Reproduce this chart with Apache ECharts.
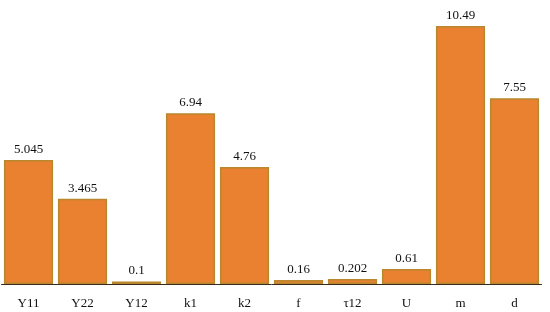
<!DOCTYPE html>
<html>
<head>
<meta charset="utf-8">
<script src="https://cdn.jsdelivr.net/npm/echarts@6/dist/echarts.min.js"></script>
<style>
  html, body { margin: 0; padding: 0; background: #fff; }
  #chart { width: 550px; height: 312px; }
</style>
</head>
<body>
<div id="chart"></div>
<script>
// parameter names and their values
const categories = ['Y11', 'Y22', 'Y12', 'k1', 'k2', 'f', 'τ12', 'U', 'm', 'd'];
const values = [5.045, 3.465, 0.1, 6.94, 4.76, 0.16, 0.202, 0.61, 10.49, 7.55];
const labelText = ['5.045', '3.465', '0.1', '6.94', '4.76', '0.16', '0.202', '0.61', '10.49', '7.55'];

const chart = echarts.init(document.getElementById('chart'));
chart.setOption({
  animation: false,
  grid: { left: 1.5, right: 8.5, top: 13.4, bottom: 28 },
  xAxis: {
    type: 'category',
    data: categories,
    axisTick: { show: false },
    axisLine: { lineStyle: { color: '#3a2a1a', width: 1 } },
    axisLabel: {
      color: '#111',
      fontFamily: 'Liberation Serif',
      fontSize: 13,
      margin: 13
    }
  },
  yAxis: {
    type: 'value',
    min: 0,
    max: 11,
    show: false,
    splitLine: { show: false }
  },
  series: [{
    type: 'bar',
    data: values,
    barCategoryGap: '9%',
    itemStyle: {
      color: '#E98131',
      borderColor: '#B8872E',
      borderWidth: 1.5
    },
    label: {
      show: true,
      position: 'top',
      distance: 4,
      color: '#111',
      fontFamily: 'Liberation Serif',
      fontSize: 13,
      formatter: p => labelText[p.dataIndex]
    }
  }]
});
</script>
</body>
</html>
